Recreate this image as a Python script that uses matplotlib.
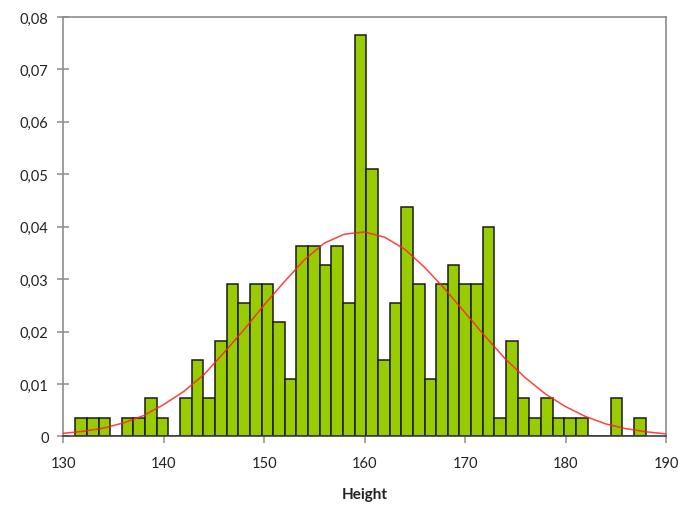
import matplotlib
matplotlib.use("Agg")
import matplotlib.pyplot as plt
from matplotlib.ticker import FuncFormatter
import numpy as np

# Histogram bins (Height), first bin start and bin width
bin_start = 131.19
bin_width = 1.159
density = [0.0036, 0.0036, 0.0036, 0.0, 0.0036, 0.0036, 0.0073, 0.0036, 0.0, 0.0073,
           0.0146, 0.0073, 0.0182, 0.0291, 0.0255, 0.0291, 0.0291, 0.0218, 0.0109, 0.0364,
           0.0364, 0.0328, 0.0364, 0.0255, 0.0765, 0.0510, 0.0146, 0.0255, 0.0437, 0.0291,
           0.0109, 0.0291, 0.0328, 0.0291, 0.0291, 0.0400, 0.0036, 0.0182, 0.0073, 0.0036,
           0.0073, 0.0036, 0.0036, 0.0036, 0.0, 0.0, 0.0073, 0.0, 0.0036]

# Fitted normal curve
curve_x = [130, 132, 134, 136, 138, 140, 142, 144, 146, 148, 150, 152, 154, 156, 158,
           160, 162, 164, 166, 168, 170, 172, 174, 176, 178, 180, 182, 184, 186, 188, 190]
curve_y = [0.0006, 0.0010, 0.0016, 0.0026, 0.0040, 0.0061, 0.0086, 0.0118, 0.0160, 0.0204,
           0.0251, 0.0295, 0.0337, 0.0369, 0.0386, 0.0390, 0.0380, 0.0357, 0.0322, 0.0281,
           0.0236, 0.0191, 0.0148, 0.0112, 0.0081, 0.0057, 0.0038, 0.0024, 0.0015, 0.0009, 0.0005]

x_label = "Height"
x_ticks = [130, 140, 150, 160, 170, 180, 190]
y_ticks = [0, 0.01, 0.02, 0.03, 0.04, 0.05, 0.06, 0.07, 0.08]

plt.rcParams['font.family'] = ['Lato', 'DejaVu Sans']

fig = plt.figure(figsize=(6.78, 5.06), dpi=100)
ax = fig.add_axes([0.0934, 0.1354, 0.8889, 0.829])

lefts = [bin_start + i * bin_width for i in range(len(density))]
ax.bar(lefts, density, width=bin_width, align='edge', color='#99CC00',
       edgecolor='#1a1a1a', linewidth=1.1, zorder=2)
ax.plot(curve_x, curve_y, color='#FF2020', linewidth=1.1, alpha=0.85, zorder=3)

ax.set_xlim(130, 190)
ax.set_ylim(0, 0.08)
ax.set_xticks(x_ticks)
ax.set_yticks(y_ticks)

def yfmt(v, pos):
    if abs(v) < 1e-12:
        return "0"
    return f"{v:.2f}".replace(".", ",")
ax.yaxis.set_major_formatter(FuncFormatter(yfmt))

for s in ['left', 'top', 'right']:
    ax.spines[s].set_color('#8c8c8c')
    ax.spines[s].set_linewidth(1.2)
ax.spines['bottom'].set_color('#404040')
ax.spines['bottom'].set_linewidth(1.2)

ax.tick_params(axis='y', direction='inout', length=9, width=1.1, color='#8c8c8c',
               labelsize=10.5, labelcolor='#222222', pad=6)
ax.tick_params(axis='x', direction='out', length=5, width=1.1, color='#8c8c8c',
               labelsize=10.5, labelcolor='#222222', pad=9)

ax.set_xlabel(x_label, fontsize=11, fontweight='bold', color='#222222', labelpad=12)

fig.savefig("out.png", dpi=100)
